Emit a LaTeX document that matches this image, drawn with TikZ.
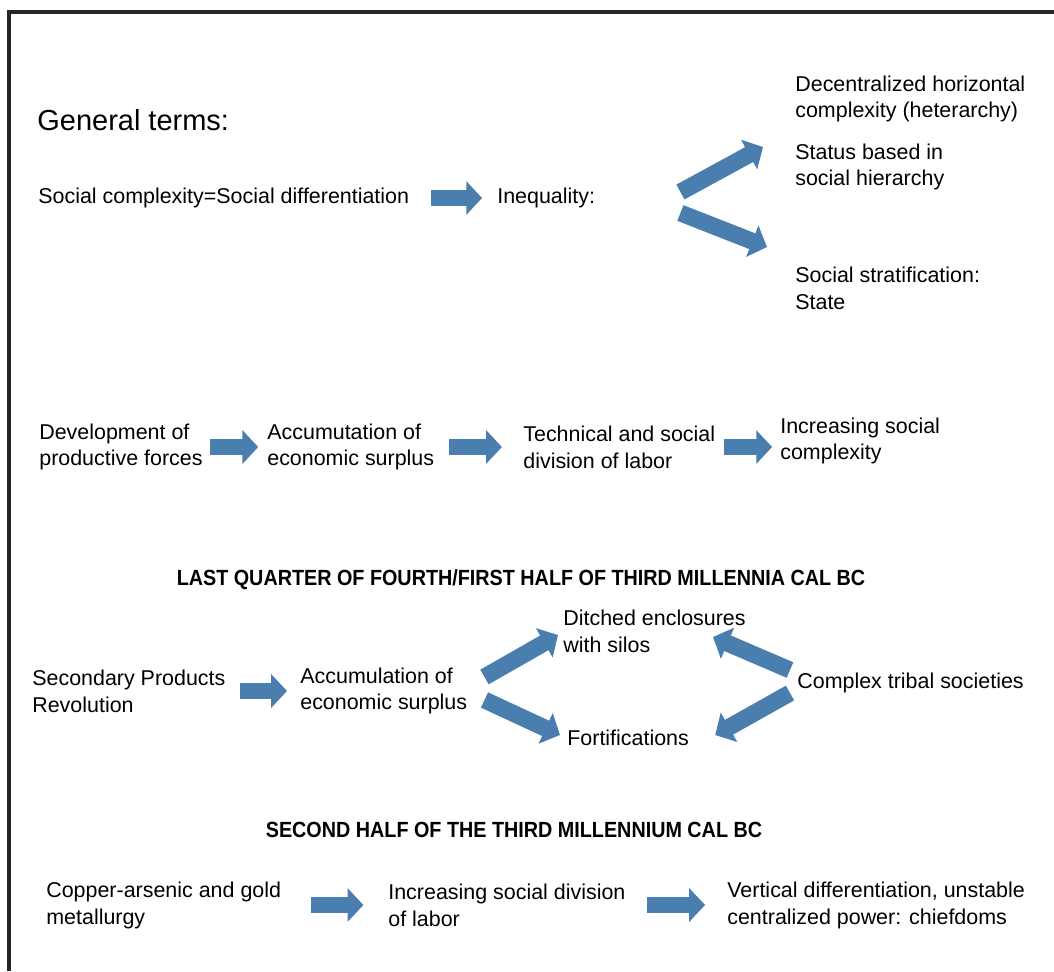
\documentclass[tikz,border=0pt]{standalone}
\usepackage{graphicx}
\usepackage{fontspec}
\setmainfont{Liberation Sans}
\usetikzlibrary{arrows.meta}

\definecolor{arrowblue}{RGB}{74,126,175}

\begin{document}
\begin{tikzpicture}[x=0.02cm,y=-0.02cm,
		txt/.style={anchor=west,align=left,inner sep=0pt,font=\fontsize{12.2}{15.3}\selectfont},
		head/.style={inner sep=0pt,font=\fontsize{12.5}{14}\selectfont\bfseries},
		flow/.style={arrowblue,line width=9.6pt,-{Triangle[length=9pt,width=18.7pt]}}]
			\useasboundingbox[fill=white] (0,0) rectangle (1054,971);
			\draw[line width=1.8pt,black!85] (9,971) -- (9,12) -- (1054,12);

			% general terms
			\node[txt,font=\fontsize{16.5}{20}\selectfont] (general) at (37,120) {General terms:};
			\node[txt] (diff) at (38,198) {Social complexity=Social differentiation};
			\node[txt] (ineq) at (497,198) {Inequality:};
			\node[txt] (heter) at (795,99) {Decentralized horizontal\\complexity (heterarchy)};
			\node[txt] (status) at (795,167) {Status based in\\social hierarchy};
			\node[txt] (strat) at (795,288) {Social stratification:\\State};

			\draw[flow, shorten <=12.5pt, shorten >=8.5pt] (diff.east) -- (ineq.west);
			\draw[flow] ([shift={(85,-6)}]ineq.east) -- ([shift={(-32,-20)}]status.west);
			\draw[flow] ([shift={(85,15)}]ineq.east) -- ([shift={(-28,-41)}]strat.west);

			% productive forces
			\node[txt] (forces) at (39,447) {Development of\\productive forces};
			\node[txt] (surplus) at (267,447) {Accumutation of\\economic surplus};
			\node[txt] (labor) at (523,447) {Technical and social\\division of labor};
			\node[txt] (complexity) at (780,441) {Increasing social\\complexity};

			\draw[flow, shorten <=4pt, shorten >=5pt] (forces.east) -- (surplus.west);
			\draw[flow, shorten <=8.5pt, shorten >=12pt] (surplus.east) -- (labor.west);
			\draw[flow, shorten <=5pt, shorten >=4.5pt] (labor.east) -- (labor.east -| complexity.west);

			% last quarter of fourth / first half of third
			\node[head] (late4th) at (521,580) {\scalebox{0.9}[1]{LAST QUARTER OF FOURTH/FIRST HALF OF THIRD MILLENNIA CAL BC}};

			\node[txt] (spr) at (32,691) {Secondary Products\\Revolution};
			\node[txt] (surplus2) at (300,691) {Accumulation of\\economic surplus};
			\node[txt] (ditch) at (563,631) {Ditched enclosures\\with silos};
			\node[txt] (fort) at (567,738) {Fortifications};
			\node[txt] (tribal) at (797,683) {Complex tribal societies};

			\draw[flow, shorten <=8pt, shorten >=7.4pt] (spr.east) -- (surplus2.west);
			\draw[flow] ([shift={(17,-14)}]surplus2.east) -- ([shift={(-5,4)}]ditch.west);
			\draw[flow] ([shift={(17,9)}]surplus2.east) -- ([shift={(-7,-3)}]fort.west);
			\draw[flow] ([shift={(-7,-13)}]tribal.west) -- ([shift={(-33,6)}]ditch.east);
			\draw[flow] ([shift={(-7,10)}]tribal.west) -- ([shift={(26,-3)}]fort.east);

			% second half of third
			\node[head] (late3rd) at (514,830) {\scalebox{0.9}[1]{SECOND HALF OF THE THIRD MILLENNIUM CAL BC}};

			\node[txt] (metal) at (46,905) {Copper-arsenic and gold\\metallurgy};
			\node[txt] (division) at (388,905) {Increasing social division\\of labor};
			\node[txt] (chief) at (727,905) {Vertical differentiation, unstable\\centralized power: chiefdoms};

			\draw[flow, shorten <=17pt, shorten >=14pt] (metal.east) -- (division.west);
			\draw[flow, shorten <=12pt, shorten >=12.5pt] (division.east) -- (chief.west);

		\end{tikzpicture}
\end{document}
